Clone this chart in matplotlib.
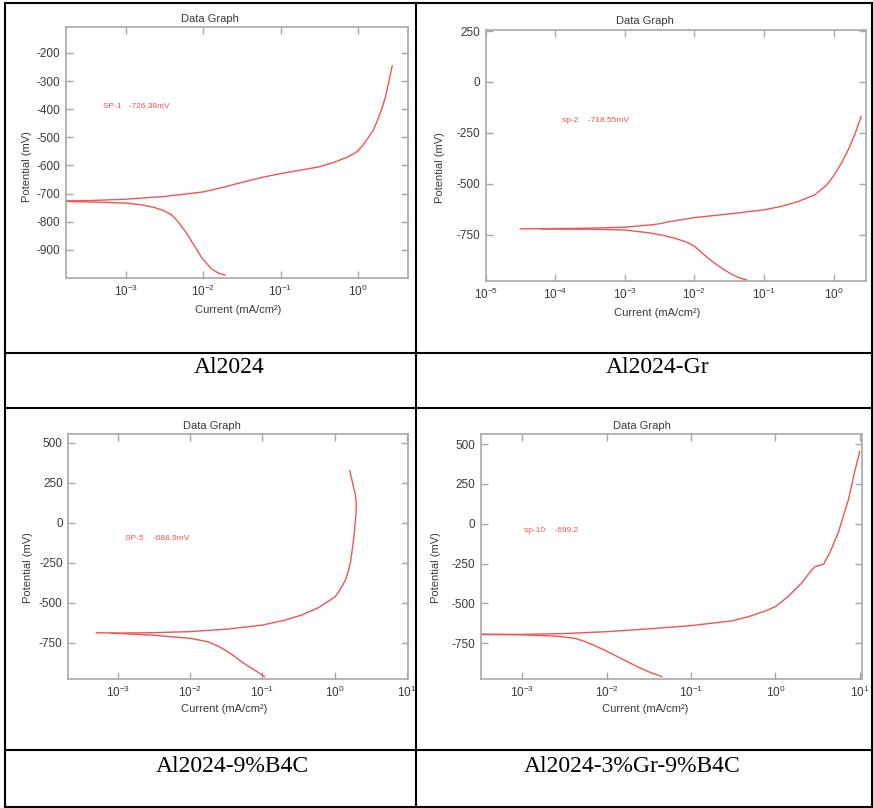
import matplotlib
matplotlib.use('Agg')
import matplotlib.pyplot as plt
from matplotlib.lines import Line2D
from matplotlib.ticker import LogLocator, LogFormatterMathtext, NullLocator, FixedLocator

plt.rcParams['font.family'] = ['Liberation Sans', 'DejaVu Sans']
plt.rcParams['mathtext.default'] = 'regular'
plt.rcParams['axes.unicode_minus'] = False

# ---- data (current in mA/cm2, potential in mV) ----
captions = ['Al2024', 'Al2024-Gr', 'Al2024-9%B4C', 'Al2024-3%Gr-9%B4C']
notes = ['SP-1   -726.38mV', 'sp-2    -718.55mV', 'SP-5    -688.9mV', 'sp-10    -699.2']

an1_i = [1.66e-4, 3.2e-4, 1e-3, 3.2e-3, 1e-2, 1.78e-2, 3.16e-2, 5.62e-2, 0.1, 0.178, 0.316,
         0.48, 0.708, 0.87, 1.0, 1.148, 1.318, 1.585, 1.778, 2.04, 2.29, 2.51, 2.79]
an1_e = [-726, -725, -720, -710, -694, -678, -660, -643, -629, -617, -605,
         -590, -572, -560, -549, -530, -507, -475, -443, -400, -354, -305, -246]
ca1_i = [1.66e-4, 5.0e-4, 1e-3, 1.58e-3, 2.29e-3, 3.02e-3, 3.8e-3, 4.47e-3, 5.13e-3, 6.03e-3,
         6.92e-3, 8.13e-3, 9.33e-3, 1.10e-2, 1.26e-2, 1.55e-2, 1.91e-2]
ca1_e = [-728, -731, -734, -740, -749, -760, -774, -793, -814, -840,
         -867, -897, -925, -948, -967, -982, -990]

an2_i = [3.16e-5, 1e-4, 3.16e-4, 1e-3, 2.5e-3, 3.3e-3, 4.2e-3, 6.3e-3, 1e-2, 3.16e-2, 0.1,
         0.178, 0.31, 0.537, 0.794, 1.0, 1.26, 1.62, 2.0, 2.48]
an2_e = [-720, -719, -717, -712, -700, -694, -686, -676, -665, -647, -627,
         -610, -586, -553, -505, -460, -405, -332, -260, -169]
ca2_i = [6.3e-5, 3.16e-4, 1e-3, 2.14e-3, 3.55e-3, 5.13e-3, 7.24e-3, 8.5e-3, 1e-2, 1.17e-2,
         1.38e-2, 1.95e-2, 2.63e-2, 3.39e-2, 4.37e-2, 5.62e-2]
ca2_e = [-721, -722, -726, -739, -752, -766, -782, -792, -806, -826,
         -848, -889, -920, -942, -960, -971]

an3_i = [5e-4, 1e-3, 2.8e-3, 1e-2, 3.3e-2, 0.1, 0.2, 0.35, 0.6, 1.02, 1.2, 1.41, 1.55, 1.66,
         1.84, 1.97, 2.0, 1.93, 1.84, 1.62]
an3_e = [-688, -690, -688, -681, -665, -640, -610, -577, -531, -462, -415, -358, -300, -244,
         -98, 48, 110, 180, 215, 325]
ca3_i = [7.9e-4, 2.8e-3, 1e-2, 1.74e-2, 2.4e-2, 3.3e-2, 4.17e-2, 5.1e-2, 6.3e-2, 7.76e-2, 0.107]
ca3_e = [-690, -702, -723, -744, -770, -806, -838, -869, -896, -921, -962]

an4_i = [3.2e-4, 1e-3, 3.2e-3, 1e-2, 3.1e-2, 0.1, 0.3, 0.48, 0.76, 1.0, 1.41, 2.04, 2.69,
         2.95, 3.72, 4.47, 5.62, 7.41, 8.71, 10.0]
an4_e = [-693, -694, -689, -677, -660, -639, -610, -583, -547, -520, -457, -373, -290,
         -269, -254, -175, -49, 160, 327, 453]
ca4_i = [3.2e-4, 1e-3, 2.5e-3, 4.2e-3, 5.25e-3, 6.6e-3, 8.3e-3, 1e-2, 1.26e-2, 1.51e-2,
         2e-2, 2.6e-2, 3.4e-2, 4.5e-2]
ca4_e = [-695, -697, -705, -719, -735, -756, -780, -800, -826, -848,
         -880, -910, -936, -959]

curves = [(an1_i, an1_e, ca1_i, ca1_e), (an2_i, an2_e, ca2_i, ca2_e),
          (an3_i, an3_e, ca3_i, ca3_e), (an4_i, an4_e, ca4_i, ca4_e)]
xlims = [(10**-3.78, 10**0.65), (10**-5.0, 10**0.46), (10**-3.69, 10**1.02), (10**-3.49, 10**1.03)]
ylims = [(-1000, -108), (-976, 255), (-977, 552), (-974, 561)]
yticks = [[-900, -800, -700, -600, -500, -400, -300, -200],
          [-750, -500, -250, 0, 250],
          [-750, -500, -250, 0, 250, 500],
          [-750, -500, -250, 0, 250, 500]]

# ---- layout in pixels ----
W, H = 873, 808
boxes = [(66, 27, 408, 278), (485.7, 30, 865.7, 281), (68.3, 434.3, 408.3, 679), (481, 434.3, 862.3, 679)]
title_pos = [(210, 19), (645, 21), (211.7, 425.7), (641.7, 425.7)]
xlab_pos = [(238, 310), (657, 313), (224, 709), (645, 709)]
ylab_pos = [(27, 167), (440, 168), (28, 568), (436, 568)]
note_pos = [(103, 107), (562, 120), (125, 538), (524, 530)]
cap_pos = [(229, 367), (658, 367), (232, 767), (632, 767)]

red = '#f05454'
grey = '#a8a8a8'
dark = '#3a3a3a'

fig = plt.figure(figsize=(W / 100, H / 100), dpi=100)

def fx(x):
    return x / W

def fy(y):
    return 1 - y / H

for k in range(4):
    l, t, r, b = boxes[k]
    ax = fig.add_axes([fx(l), fy(b), (r - l) / W, (b - t) / H])
    ai, ae, ci, ce = curves[k]
    ax.plot(ai, ae, color=red, lw=1.0)
    ax.plot(ci, ce, color=red, lw=1.0)
    ax.set_xscale('log')
    ax.set_xlim(*xlims[k])
    ax.set_ylim(*ylims[k])
    ax.xaxis.set_major_locator(LogLocator(base=10, numticks=20))
    ax.xaxis.set_major_formatter(LogFormatterMathtext())
    ax.xaxis.set_minor_locator(NullLocator())
    ax.yaxis.set_major_locator(FixedLocator(yticks[k]))
    ax.tick_params(direction='in', length=5, width=1, color=grey, top=True, right=True,
                   labelsize=8.5, labelcolor=dark, pad=4)
    for s in ax.spines.values():
        s.set_color(grey)
        s.set_linewidth(1.2)
    ax.set_xlabel('Current (mA/cm²)', fontsize=8, color=dark)
    ax.set_ylabel('Potential (mV)', fontsize=8, color=dark)
    ax.xaxis.set_label_coords((xlab_pos[k][0] - l) / (r - l), (b - xlab_pos[k][1]) / (b - t), transform=ax.transAxes)
    ax.yaxis.set_label_coords((ylab_pos[k][0] - l) / (r - l), (b - ylab_pos[k][1]) / (b - t), transform=ax.transAxes)
    ax.xaxis.label.set_va('center')
    ax.yaxis.label.set_va('center')
    ax.text((note_pos[k][0] - l) / (r - l), (b - note_pos[k][1]) / (b - t), notes[k],
            transform=ax.transAxes, fontsize=6, color=red, va='center', ha='left')
    fig.text(fx(title_pos[k][0]), fy(title_pos[k][1]), 'Data Graph', fontsize=8,
             color=dark, ha='center', va='center')
    fig.text(fx(cap_pos[k][0]), fy(cap_pos[k][1]), captions[k], fontsize=17,
             family='Liberation Serif', color='black', ha='center', va='center')

# table grid
for x in [5, 415.5, 871.5]:
    fig.add_artist(Line2D([fx(x), fx(x)], [fy(3), fy(807)], color='black', lw=1.5,
                          transform=fig.transFigure))
for y in [3, 353, 408, 750, 807]:
    fig.add_artist(Line2D([fx(5), fx(871.5)], [fy(y), fy(y)], color='black', lw=1.5,
                          transform=fig.transFigure))

plt.savefig('out.png', dpi=100)
